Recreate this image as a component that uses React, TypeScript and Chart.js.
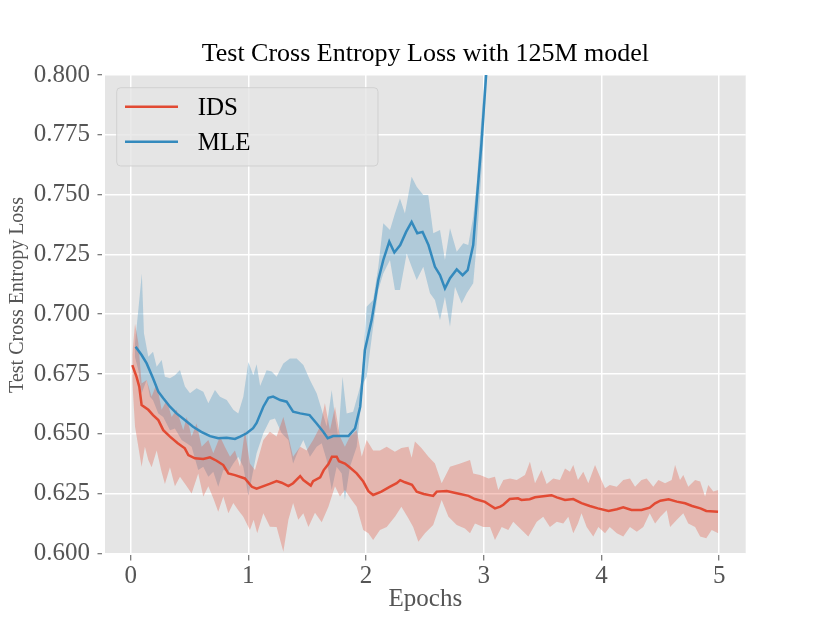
import { useEffect, useRef } from "react";
import { Chart, registerables } from "chart.js";

Chart.register(...registerables);

type Pt = [number, number];

// ---- data (epoch, loss) ----
const seriesNames = ["IDS", "MLE"];
const seriesColors = ["#E24A33", "#348ABD"];
const bandColors = ["rgba(226, 74, 51, 0.3)", "rgba(52, 138, 189, 0.3)"];

const xTicks = [0, 1, 2, 3, 4, 5];
const yTicks = [0.6, 0.625, 0.65, 0.675, 0.7, 0.725, 0.75, 0.775, 0.8];

const idsMean: Pt[] = [
  [0.014, 0.6787], [0.05, 0.6738], [0.073, 0.6697], [0.093, 0.662], [0.15, 0.66], [0.19, 0.6578],
  [0.235, 0.6557], [0.277, 0.6515], [0.334, 0.6488], [0.4, 0.646], [0.46, 0.6439], [0.49, 0.6411],
  [0.546, 0.6397], [0.617, 0.6394], [0.674, 0.6401], [0.73, 0.6387], [0.787, 0.6369], [0.83, 0.6334],
  [0.886, 0.6327], [0.97, 0.6313], [1.03, 0.6278], [1.07, 0.627], [1.18, 0.629], [1.24, 0.6302],
  [1.283, 0.6295], [1.34, 0.6281], [1.38, 0.6293], [1.44, 0.6323], [1.467, 0.6306], [1.53, 0.6283],
  [1.55, 0.6302], [1.61, 0.6318], [1.64, 0.6348], [1.68, 0.6373], [1.71, 0.6404], [1.75, 0.6404],
  [1.77, 0.6385], [1.82, 0.6375], [1.86, 0.636], [1.92, 0.6334], [1.976, 0.63], [2.02, 0.626],
  [2.06, 0.6244], [2.13, 0.6258], [2.2, 0.6278], [2.26, 0.6293], [2.29, 0.6306], [2.33, 0.6297],
  [2.39, 0.6286], [2.43, 0.6258], [2.49, 0.6248], [2.57, 0.624], [2.6, 0.6258], [2.685, 0.626],
  [2.77, 0.6251], [2.87, 0.624], [2.925, 0.6227], [3.01, 0.6215], [3.05, 0.6202], [3.095, 0.6188],
  [3.14, 0.6195], [3.166, 0.6203], [3.22, 0.6227], [3.29, 0.623], [3.32, 0.6223], [3.39, 0.6226],
  [3.435, 0.6234], [3.505, 0.6239], [3.575, 0.6243], [3.62, 0.6234], [3.69, 0.6223], [3.76, 0.6227],
  [3.83, 0.621], [3.9, 0.6198], [3.97, 0.6188], [4.06, 0.6177], [4.13, 0.6184], [4.185, 0.6192],
  [4.255, 0.6181], [4.34, 0.6181], [4.41, 0.6191], [4.455, 0.6209], [4.5, 0.622], [4.57, 0.6226],
  [4.64, 0.6216], [4.71, 0.6209], [4.77, 0.6198], [4.84, 0.6188], [4.89, 0.6177], [4.99, 0.6174],
];

const idsUpper: Pt[] = [
  [0.014, 0.683], [0.037, 0.696], [0.065, 0.688], [0.093, 0.671], [0.136, 0.6725], [0.178, 0.6655],
  [0.221, 0.671], [0.263, 0.66], [0.306, 0.664], [0.348, 0.657], [0.39, 0.66], [0.447, 0.6515],
  [0.476, 0.657], [0.518, 0.6488], [0.56, 0.6543], [0.603, 0.6446], [0.66, 0.6474], [0.702, 0.6418],
  [0.759, 0.6488], [0.8, 0.6446], [0.844, 0.6404], [0.886, 0.643], [0.929, 0.6362], [0.971, 0.6515],
  [1.013, 0.6376], [1.056, 0.6348], [1.127, 0.6474], [1.183, 0.6508], [1.24, 0.6488], [1.297, 0.657],
  [1.34, 0.6488], [1.38, 0.6404], [1.44, 0.6446], [1.495, 0.643], [1.55, 0.6474], [1.61, 0.653],
  [1.65, 0.6627], [1.693, 0.6515], [1.736, 0.6613], [1.778, 0.6488], [1.82, 0.6446], [1.863, 0.6488],
  [1.92, 0.6515], [1.963, 0.6404], [2.005, 0.6474], [2.06, 0.643], [2.118, 0.643], [2.175, 0.6446],
  [2.245, 0.6425], [2.3, 0.644], [2.36, 0.6446], [2.387, 0.64], [2.415, 0.6467], [2.47, 0.644],
  [2.53, 0.6404], [2.585, 0.6376], [2.642, 0.6293], [2.713, 0.6362], [2.8, 0.6376], [2.883, 0.639],
  [2.91, 0.6334], [2.968, 0.6327], [3.04, 0.6313], [3.095, 0.632], [3.123, 0.6265], [3.166, 0.6306],
  [3.223, 0.6313], [3.28, 0.6306], [3.35, 0.6327], [3.392, 0.6383], [3.435, 0.6293], [3.49, 0.6348],
  [3.534, 0.629], [3.59, 0.6313], [3.647, 0.6306], [3.69, 0.6355], [3.732, 0.6341], [3.76, 0.6369],
  [3.8, 0.6306], [3.845, 0.6341], [3.888, 0.6293], [3.945, 0.6369], [3.987, 0.632], [4.03, 0.6272],
  [4.07, 0.6286], [4.13, 0.6278], [4.185, 0.6306], [4.242, 0.6313], [4.285, 0.6278], [4.34, 0.6306],
  [4.384, 0.6313], [4.44, 0.6278], [4.483, 0.6306], [4.54, 0.6293], [4.596, 0.6306], [4.625, 0.6369],
  [4.667, 0.6306], [4.695, 0.6327], [4.737, 0.6278], [4.795, 0.6306], [4.838, 0.63], [4.88, 0.6237],
  [4.907, 0.6286], [4.95, 0.6258], [4.992, 0.6265],
];

const idsLower: Pt[] = [
  [0.014, 0.672], [0.037, 0.653], [0.093, 0.6362], [0.121, 0.6446], [0.15, 0.639], [0.178, 0.636],
  [0.221, 0.643], [0.263, 0.634], [0.291, 0.629], [0.334, 0.636], [0.376, 0.628], [0.419, 0.632],
  [0.476, 0.628], [0.518, 0.625], [0.574, 0.6334], [0.617, 0.6237], [0.66, 0.628], [0.702, 0.623],
  [0.744, 0.6174], [0.787, 0.6237], [0.83, 0.6167], [0.872, 0.621], [0.914, 0.618], [0.957, 0.6153],
  [1.013, 0.6097], [1.045, 0.614], [1.075, 0.6084], [1.127, 0.6167], [1.183, 0.6111], [1.24, 0.611],
  [1.297, 0.6007], [1.34, 0.614], [1.38, 0.621], [1.424, 0.614], [1.467, 0.6167], [1.51, 0.611],
  [1.566, 0.617], [1.623, 0.613], [1.68, 0.6195], [1.736, 0.628], [1.778, 0.6237], [1.82, 0.6265],
  [1.878, 0.6223], [1.92, 0.6195], [1.976, 0.6097], [2.02, 0.6084], [2.06, 0.6056], [2.118, 0.6097],
  [2.175, 0.611], [2.245, 0.6153], [2.3, 0.6195], [2.36, 0.6146], [2.4, 0.611], [2.444, 0.6048],
  [2.5, 0.6084], [2.57, 0.6118], [2.642, 0.6223], [2.7, 0.6153], [2.77, 0.6118], [2.84, 0.6104],
  [2.883, 0.6084], [2.925, 0.6125], [2.996, 0.611], [3.053, 0.611], [3.095, 0.6056], [3.152, 0.611],
  [3.208, 0.6097], [3.25, 0.6132], [3.322, 0.6097], [3.378, 0.607], [3.45, 0.6132], [3.505, 0.6153],
  [3.562, 0.611], [3.62, 0.6132], [3.675, 0.6125], [3.718, 0.6153], [3.76, 0.6084], [3.8, 0.6125],
  [3.83, 0.6167], [3.874, 0.611], [3.93, 0.607], [3.973, 0.611], [4.03, 0.6084], [4.07, 0.611],
  [4.13, 0.6084], [4.185, 0.607], [4.242, 0.611], [4.3, 0.609], [4.355, 0.611], [4.41, 0.6167],
  [4.455, 0.6125], [4.5, 0.6153], [4.554, 0.618], [4.583, 0.611], [4.64, 0.614], [4.695, 0.6167],
  [4.737, 0.6125], [4.795, 0.611], [4.838, 0.607], [4.89, 0.6063], [4.936, 0.6097], [4.992, 0.6084],
];

const mleMean: Pt[] = [
  [0.042, 0.6864], [0.093, 0.6829], [0.136, 0.6794], [0.19, 0.6732], [0.235, 0.6676], [0.277, 0.6648],
  [0.334, 0.6613], [0.39, 0.6585], [0.46, 0.6557], [0.53, 0.6529], [0.6, 0.6508], [0.674, 0.649],
  [0.744, 0.6481], [0.816, 0.6483], [0.886, 0.6478], [0.93, 0.6488], [0.985, 0.6502], [1.04, 0.6523],
  [1.07, 0.6545], [1.127, 0.6613], [1.17, 0.665], [1.21, 0.6655], [1.27, 0.6641], [1.325, 0.6634],
  [1.38, 0.6592], [1.44, 0.6585], [1.52, 0.6578], [1.58, 0.6543], [1.636, 0.6508], [1.674, 0.6481],
  [1.72, 0.649], [1.78, 0.649], [1.85, 0.649], [1.906, 0.6522], [1.95, 0.6613], [1.99, 0.685],
  [2.047, 0.6975], [2.104, 0.7143], [2.146, 0.7226], [2.197, 0.7303], [2.24, 0.7258], [2.29, 0.7289],
  [2.34, 0.7344], [2.387, 0.7386], [2.435, 0.7338], [2.48, 0.7344], [2.53, 0.7289], [2.585, 0.7198],
  [2.628, 0.7163], [2.67, 0.7108], [2.713, 0.715], [2.77, 0.7187], [2.82, 0.7163], [2.863, 0.7184],
  [2.91, 0.7289], [2.945, 0.7505], [2.98, 0.7714], [3.02, 0.8], [3.06, 0.84],
];

const mleUpper: Pt[] = [
  [0.037, 0.6878], [0.065, 0.7017], [0.095, 0.717], [0.113, 0.692], [0.15, 0.6822], [0.19, 0.6843],
  [0.221, 0.678], [0.263, 0.6808], [0.291, 0.6738], [0.334, 0.6732], [0.376, 0.6745], [0.419, 0.6766],
  [0.461, 0.6697], [0.504, 0.6669], [0.56, 0.669], [0.617, 0.6676], [0.66, 0.6627], [0.716, 0.6683],
  [0.759, 0.6655], [0.816, 0.6641], [0.872, 0.66], [0.914, 0.6585], [0.957, 0.6655], [1.0, 0.68],
  [1.042, 0.6745], [1.07, 0.679], [1.1, 0.67], [1.155, 0.6765], [1.198, 0.676], [1.24, 0.6738],
  [1.297, 0.6794], [1.353, 0.6815], [1.41, 0.6815], [1.467, 0.6787], [1.523, 0.6725], [1.58, 0.6669],
  [1.623, 0.66], [1.665, 0.653], [1.708, 0.6683], [1.736, 0.657], [1.764, 0.6488], [1.8, 0.6738],
  [1.835, 0.6585], [1.89, 0.6592], [1.934, 0.6669], [1.963, 0.6725], [2.005, 0.7031], [2.06, 0.7059],
  [2.104, 0.7198], [2.146, 0.738], [2.203, 0.7352], [2.245, 0.7421], [2.288, 0.7484], [2.33, 0.7421],
  [2.387, 0.7575], [2.43, 0.7533], [2.486, 0.7498], [2.528, 0.7498], [2.571, 0.7338], [2.628, 0.7352],
  [2.67, 0.7226], [2.713, 0.7359], [2.77, 0.7261], [2.826, 0.7296], [2.868, 0.7289], [2.91, 0.7407],
  [2.94, 0.7547], [2.968, 0.7742], [3.0, 0.795], [3.04, 0.84],
];

const mleLower: Pt[] = [
  [0.037, 0.682], [0.065, 0.6766], [0.093, 0.6669], [0.136, 0.6725], [0.164, 0.6655], [0.19, 0.664],
  [0.235, 0.6585], [0.277, 0.657], [0.334, 0.6515], [0.376, 0.6522], [0.433, 0.6474], [0.476, 0.646],
  [0.518, 0.6446], [0.574, 0.6348], [0.617, 0.6362], [0.66, 0.632], [0.702, 0.6341], [0.744, 0.6278],
  [0.787, 0.6348], [0.83, 0.6341], [0.872, 0.6376], [0.914, 0.6404], [0.957, 0.6362], [1.0, 0.624],
  [1.042, 0.6348], [1.07, 0.6418], [1.127, 0.6502], [1.183, 0.6557], [1.226, 0.6564], [1.283, 0.6502],
  [1.34, 0.6474], [1.38, 0.6376], [1.424, 0.643], [1.467, 0.6474], [1.523, 0.6404], [1.58, 0.6446],
  [1.623, 0.646], [1.665, 0.639], [1.708, 0.6265], [1.75, 0.6362], [1.793, 0.6334], [1.82, 0.6223],
  [1.863, 0.6362], [1.92, 0.6446], [1.976, 0.6711], [2.005, 0.6738], [2.06, 0.6947], [2.104, 0.7101],
  [2.146, 0.717], [2.203, 0.7226], [2.245, 0.7101], [2.288, 0.7101], [2.345, 0.7254], [2.387, 0.7198],
  [2.43, 0.7143], [2.486, 0.7198], [2.543, 0.7087], [2.585, 0.7059], [2.628, 0.6975], [2.67, 0.7073],
  [2.713, 0.6947], [2.755, 0.7115], [2.812, 0.7045], [2.855, 0.7087], [2.91, 0.7129], [2.94, 0.7296],
  [2.968, 0.7505], [2.996, 0.771], [3.04, 0.82],
];

const yAxisLabel = "Test Cross Entropy Loss";

const SERIF = "'Liberation Serif', 'Times New Roman', Times, serif";

const toXY = (pts: Pt[]) => pts.map(([x, y]) => ({ x, y }));

// grey ggplot-style panel behind the data
const panelPlugin = {
  id: "panelBg",
  beforeDraw(chart: Chart) {
    const { ctx, chartArea } = chart;
    ctx.save();
    ctx.fillStyle = "#E5E5E5";
    ctx.fillRect(chartArea.left, chartArea.top, chartArea.right - chartArea.left, chartArea.bottom - chartArea.top);
    ctx.restore();
  },
};

// y label sits a bit above the axis middle in the original, so it is drawn by hand
const yLabelPlugin = {
  id: "yLabel",
  afterDraw(chart: Chart) {
    const { ctx } = chart;
    ctx.save();
    ctx.translate(17.3, 295);
    ctx.rotate(-Math.PI / 2);
    ctx.fillStyle = "#555555";
    ctx.font = `20px ${SERIF}`;
    ctx.textAlign = "center";
    ctx.textBaseline = "middle";
    ctx.fillText(yAxisLabel, 0, 0);
    ctx.restore();
  },
};

// matplotlib-like legend box inside the axes
const boxLegendPlugin = {
  id: "boxLegend",
  afterDraw(chart: Chart) {
    const { ctx, chartArea } = chart;
    const bx = chartArea.left + 11.7;
    const by = chartArea.top + 12.7;
    ctx.save();
    ctx.beginPath();
    ctx.roundRect(bx, by, 261.3, 78.3, 4);
    ctx.fillStyle = "rgba(229, 229, 229, 0.8)";
    ctx.fill();
    ctx.strokeStyle = "rgba(204, 204, 204, 0.8)";
    ctx.lineWidth = 1;
    ctx.stroke();
    seriesNames.forEach((name, i) => {
      const cy = by + 19 + i * 35;
      ctx.beginPath();
      ctx.moveTo(bx + 8.3, cy);
      ctx.lineTo(bx + 61.3, cy);
      ctx.strokeStyle = seriesColors[i];
      ctx.lineWidth = 2.5;
      ctx.stroke();
      ctx.fillStyle = "#000";
      ctx.font = `25px ${SERIF}`;
      ctx.textBaseline = "middle";
      ctx.textAlign = "left";
      ctx.fillText(name, bx + 81, cy + 2);
    });
    ctx.restore();
  },
};

export default function App() {
  const canvasRef = useRef<HTMLCanvasElement | null>(null);

  useEffect(() => {
    if (!canvasRef.current) return;

    const bands = [
      [idsUpper, idsLower],
      [mleUpper, mleLower],
    ];
    const means = [idsMean, mleMean];

    const datasets: any[] = [];
    bands.forEach(([up, low], i) => {
      datasets.push({
        label: seriesNames[i] + " upper",
        data: toXY(up),
        borderWidth: 0,
        pointRadius: 0,
        backgroundColor: bandColors[i],
        fill: "+1",
        order: 2,
      });
      datasets.push({
        label: seriesNames[i] + " lower",
        data: toXY(low),
        borderWidth: 0,
        pointRadius: 0,
        fill: false,
        order: 2,
      });
    });
    means.forEach((m, i) => {
      datasets.push({
        label: seriesNames[i],
        data: toXY(m),
        borderColor: seriesColors[i],
        borderWidth: 2.5,
        pointRadius: 0,
        fill: false,
        order: 1 - i,
      });
    });

    const tickFont = { family: SERIF, size: 25, weight: "normal" as const, lineHeight: 1.2 };
    const labelFont = { family: SERIF, size: 25, weight: "normal" as const, lineHeight: 1.2 };

    const chart = new Chart(canvasRef.current, {
      type: "line",
      data: { datasets },
      options: {
        animation: false,
        responsive: true,
        maintainAspectRatio: false,
        layout: { padding: { left: 0, right: 84.3, top: 0, bottom: 0 } },
        elements: { line: { tension: 0 } },
        plugins: {
          legend: { display: false },
          tooltip: { enabled: false },
          filler: { drawTime: "beforeDatasetsDraw" } as any,
          title: {
            display: true,
            text: "Test Cross Entropy Loss with 125M model",
            color: "#000",
            fullSize: false,
            font: { family: SERIF, size: 26, weight: "normal", lineHeight: 1.2 },
            padding: { top: 38.9, bottom: 4.9 },
          },
        },
        scales: {
          x: {
            type: "linear",
            min: -0.218,
            max: 5.225,
            afterBuildTicks: (s: any) => {
              s.ticks = xTicks.map((v) => ({ value: v }));
            },
            afterFit: (s: any) => {
              s.height = 69.7;
            },
            border: { display: false },
            grid: {
              color: "#FFFFFF",
              lineWidth: 1.5,
              tickColor: "#555555",
              tickLength: 7.5,
              tickWidth: 1,
              tickBorderDash: [5.5, 10],
              tickBorderDashOffset: 13.5,
            },
            ticks: {
              color: "#555555",
              font: tickFont,
              padding: 1,
              maxRotation: 0,
              callback: (v: any) => String(v),
            },
            title: {
              display: true,
              text: "Epochs",
              color: "#555555",
              font: labelFont,
              padding: { top: 0, bottom: 8.5 },
            },
          },
          y: {
            type: "linear",
            min: 0.6,
            max: 0.8,
            afterBuildTicks: (s: any) => {
              s.ticks = yTicks.map((v) => ({ value: v }));
            },
            afterFit: (s: any) => {
              s.width = 105;
            },
            border: { display: false },
            grid: {
              color: "#FFFFFF",
              lineWidth: 1.5,
              tickColor: "#555555",
              tickLength: 7.5,
              tickWidth: 1,
              tickBorderDash: [4.5, 10],
              tickBorderDashOffset: 0,
            },
            ticks: {
              color: "#555555",
              font: tickFont,
              padding: 7.5,
              callback: (v: any) => Number(v).toFixed(3),
            },
            title: { display: false },
          },
        },
      },
      plugins: [panelPlugin, yLabelPlugin, boxLegendPlugin],
    });

    return () => {
      chart.destroy();
    };
  }, []);

  return (
    <div style={{ position: "absolute", left: 0, top: 0, width: 830, height: 623 }}>
      <canvas ref={canvasRef}></canvas>
    </div>
  );
}
